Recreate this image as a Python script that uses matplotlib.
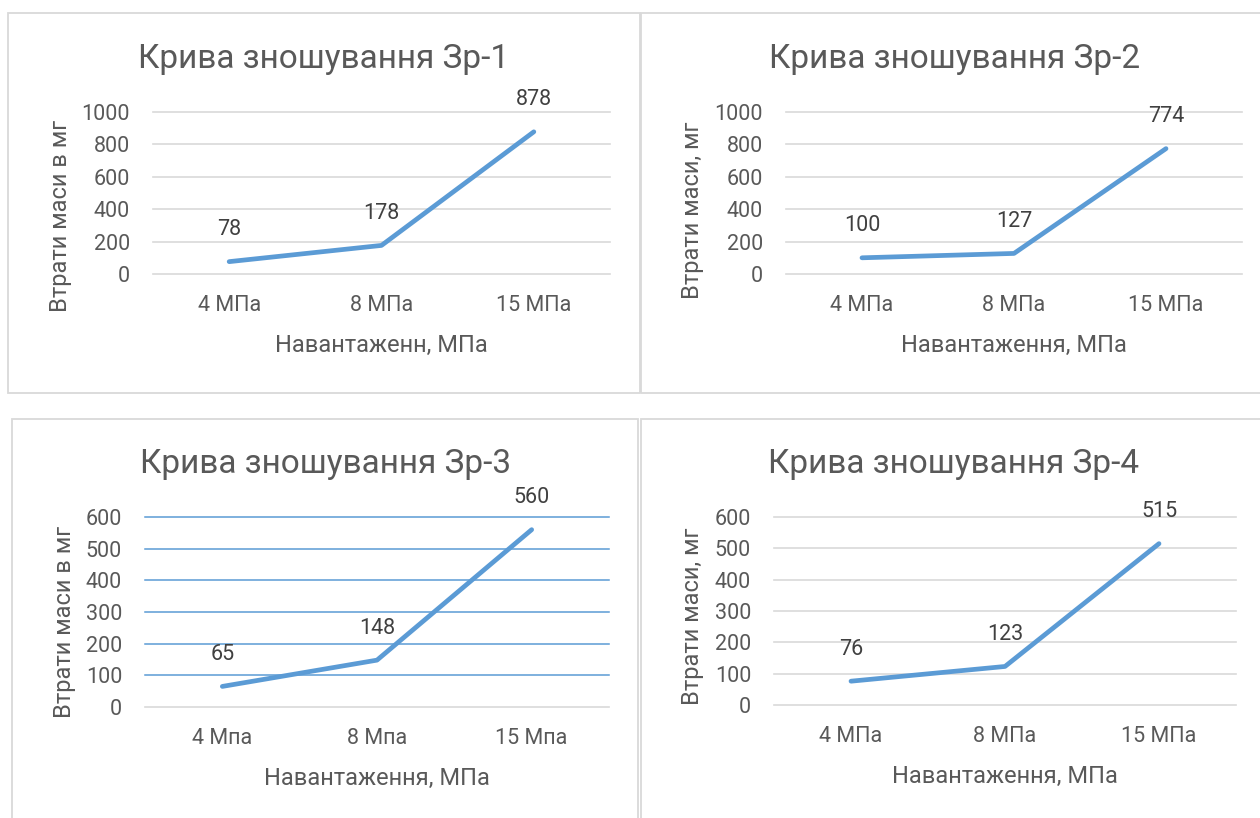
import matplotlib
matplotlib.use("Agg")
import matplotlib.pyplot as plt
from matplotlib.patches import Rectangle

plt.rcParams['font.family'] = ['Roboto', 'DejaVu Sans']

# Wear curves for four samples
loads_mpa = ['4 МПа', '8 МПа', '15 МПа']
loads_mpa_alt = ['4 Мпа', '8 Мпа', '15 Мпа']
wear_zr1 = [78, 178, 878]
wear_zr2 = [100, 127, 774]
wear_zr3 = [65, 148, 560]
wear_zr4 = [76, 123, 515]

titles = ['Крива зношування Зр-1', 'Крива зношування Зр-2',
          'Крива зношування Зр-3', 'Крива зношування Зр-4']
xlabels = ['Навантаженн, МПа', 'Навантаження, МПа',
           'Навантаження, МПа', 'Навантаження, МПа']
ylabels = ['Втрати маси в мг', 'Втрати маси, мг',
           'Втрати маси в мг', 'Втрати маси, мг']

W, H = 1260, 818
fig = plt.figure(figsize=(W / 100, H / 100), dpi=100)

LINE = '#5B9BD5'
GRID = '#D9D9D9'
TXT = '#595959'
LBL = '#404040'


def px_box(x0, y0, x1, y1):
    # pixel box (top-left origin) -> figure fraction [l, b, w, h]
    return [x0 / W, 1 - y1 / H, (x1 - x0) / W, (y1 - y0) / H]


# chart frames
for x0, y0, x1, y1 in [(8, 13, 640, 393), (641, 13, 1262, 393),
                       (12, 419, 638, 822), (641, 419, 1262, 822)]:
    fig.add_artist(Rectangle((x0 / W, 1 - y1 / H), (x1 - x0) / W, (y1 - y0) / H,
                             transform=fig.transFigure, fill=False,
                             edgecolor=GRID, lw=1.3))

panels = [
    dict(box=(153, 112, 610, 274.3), ymax=1000, step=200, data=wear_zr1,
         cats=loads_mpa, title_xy=(324, 59), ylab_xy=(60, 216), blue_grid=False),
    dict(box=(786, 112, 1242, 274), ymax=1000, step=200, data=wear_zr2,
         cats=loads_mpa, title_xy=(955, 59), ylab_xy=(693, 210), blue_grid=False),
    dict(box=(145, 517, 609, 707), ymax=600, step=100, data=wear_zr3,
         cats=loads_mpa_alt, title_xy=(325, 464), ylab_xy=(65, 622), blue_grid=True),
    dict(box=(774, 517, 1236, 705), ymax=600, step=100, data=wear_zr4,
         cats=loads_mpa, title_xy=(954, 464), ylab_xy=(692, 616), blue_grid=False),
]

for i, p in enumerate(panels):
    x0, y0, x1, y1 = p['box']
    ax = fig.add_axes(px_box(x0, y0, x1, y1))
    xs = range(len(p['data']))
    ax.plot(xs, p['data'], color=LINE, lw=3.4, solid_capstyle='round',
            solid_joinstyle='round', zorder=3, clip_on=False)
    for x, v in zip(xs, p['data']):
        ax.annotate(str(v), (x, v), xytext=(0, 23), textcoords='offset points',
                    ha='center', va='center', fontsize=15.5, color=LBL)

    ax.set_xlim(-0.5, len(p['data']) - 0.5)
    ax.set_ylim(0, p['ymax'])
    yt = list(range(0, p['ymax'] + 1, p['step']))
    ax.set_yticks(yt)
    for v in yt:
        if p['blue_grid'] and v > 0:
            ax.axhline(v, color=LINE, lw=1.1, zorder=1, clip_on=False)
        else:
            ax.axhline(v, color=GRID, lw=1.2, zorder=1, clip_on=False)
    ax.set_xticks(list(xs))
    ax.set_xticklabels(p['cats'])
    ax.tick_params(length=0, labelsize=15.5, labelcolor=TXT)
    ax.tick_params(axis='y', pad=16.5)
    ax.tick_params(axis='x', pad=15)
    for s in ax.spines.values():
        s.set_visible(False)
    ax.patch.set_alpha(0)

    ax.set_xlabel(xlabels[i], fontsize=17, color=TXT)
    ax.xaxis.label.set_verticalalignment('center')
    ax.xaxis.set_label_coords(0.5, -71 / (y1 - y0))
    lx, ly = p['ylab_xy']
    ax.set_ylabel(ylabels[i], fontsize=17, color=TXT)
    ax.yaxis.label.set_verticalalignment('center')
    ax.yaxis.set_label_coords(-(x0 - lx) / (x1 - x0), (y1 - ly) / (y1 - y0))

    tx, ty = p['title_xy']
    fig.text(tx / W, 1 - ty / H, titles[i], ha='center', va='center',
             fontsize=24, color=TXT)

fig.savefig('out.png', dpi=100, facecolor='white')
